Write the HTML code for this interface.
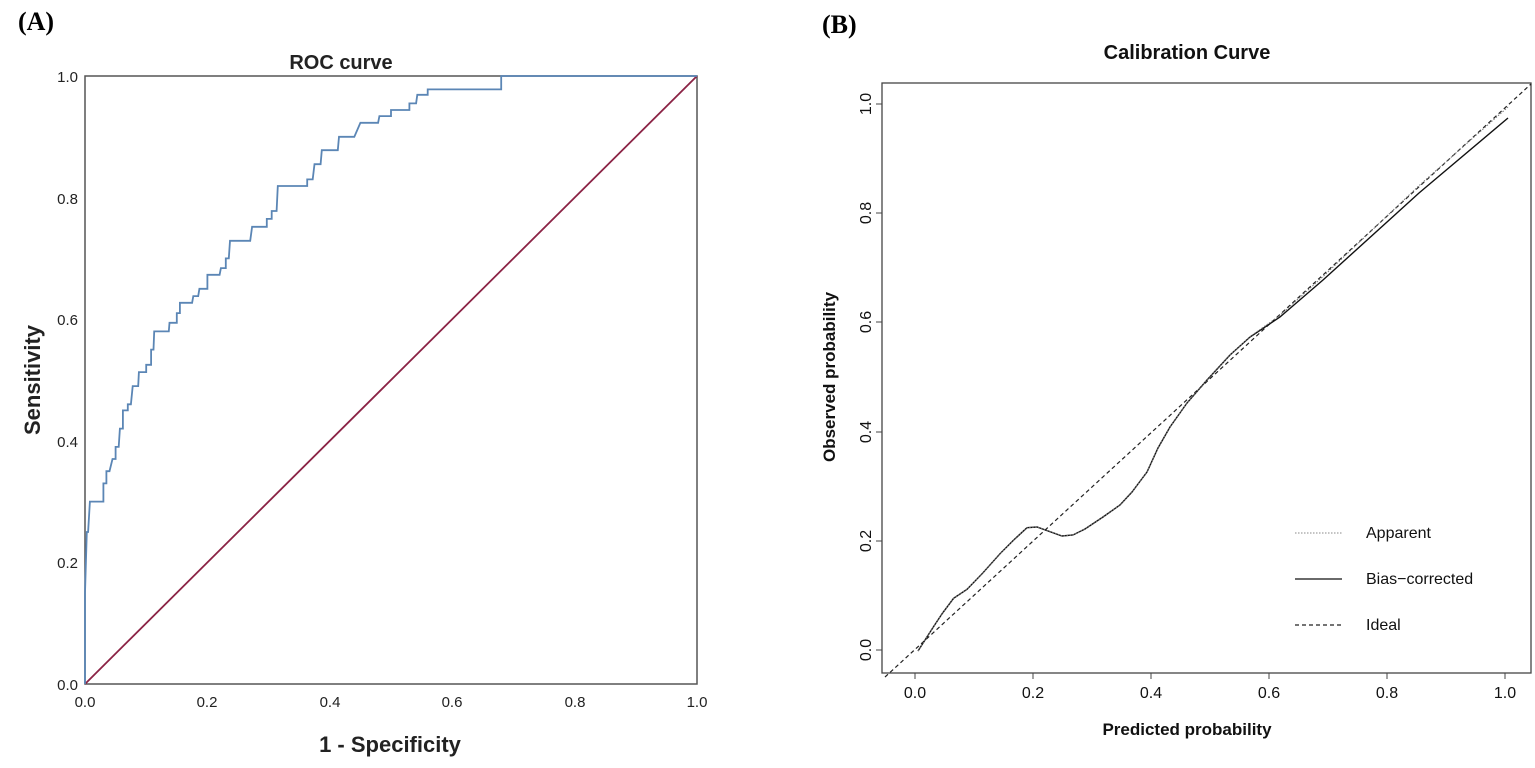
<!DOCTYPE html>
<html><head><meta charset="utf-8"><style>
html,body{margin:0;padding:0;background:#fff;width:1535px;height:768px;overflow:hidden}
svg{display:block}
</style></head><body>
<svg id="s" width="1535" height="768" xmlns="http://www.w3.org/2000/svg" font-family="Liberation Sans, sans-serif">
<text x="18" y="30" font-family="Liberation Serif, serif" font-weight="bold" font-size="26">(A)</text>
<text x="822" y="33" font-family="Liberation Serif, serif" font-weight="bold" font-size="26">(B)</text>
<!-- Panel A -->
<text x="341" y="69" text-anchor="middle" font-weight="bold" font-size="20" fill="#222">ROC curve</text>
<rect x="85" y="76" width="612" height="608" fill="none" stroke="#555" stroke-width="1.5"/>
<g font-size="15" fill="#222" text-anchor="end">
<text x="78" y="690">0.0</text><text x="78" y="568">0.2</text><text x="78" y="447">0.4</text><text x="78" y="325">0.6</text><text x="78" y="204">0.8</text><text x="78" y="82">1.0</text>
</g>
<g font-size="15" fill="#222" text-anchor="middle">
<text x="85" y="707">0.0</text><text x="207" y="707">0.2</text><text x="330" y="707">0.4</text><text x="452" y="707">0.6</text><text x="575" y="707">0.8</text><text x="697" y="707">1.0</text>
</g>
<text transform="translate(40,380) rotate(-90)" text-anchor="middle" font-weight="bold" font-size="22" fill="#222">Sensitivity</text>
<text x="390" y="752" text-anchor="middle" font-weight="bold" font-size="22" fill="#222">1 - Specificity</text>
<line x1="85" y1="684" x2="697" y2="76" stroke="#8b2345" stroke-width="1.8"/>
<path id="roc" fill="none" stroke="#5b86b5" stroke-width="1.8"/>
<!-- Panel B -->
<text x="1187" y="59" text-anchor="middle" font-weight="bold" font-size="20" fill="#111">Calibration Curve</text>
<rect x="882" y="83" width="649" height="590" fill="none" stroke="#444" stroke-width="1.3"/>
<g stroke="#444" stroke-width="1">
<line x1="915" y1="673" x2="915" y2="679"/><line x1="1033" y1="673" x2="1033" y2="679"/><line x1="1151" y1="673" x2="1151" y2="679"/><line x1="1269" y1="673" x2="1269" y2="679"/><line x1="1387" y1="673" x2="1387" y2="679"/><line x1="1505" y1="673" x2="1505" y2="679"/>
<line x1="876" y1="650" x2="882" y2="650"/><line x1="876" y1="541" x2="882" y2="541"/><line x1="876" y1="432" x2="882" y2="432"/><line x1="876" y1="322" x2="882" y2="322"/><line x1="876" y1="213" x2="882" y2="213"/><line x1="876" y1="104" x2="882" y2="104"/>
</g>
<g font-size="16" fill="#111" text-anchor="middle">
<text x="915" y="698">0.0</text><text x="1033" y="698">0.2</text><text x="1151" y="698">0.4</text><text x="1269" y="698">0.6</text><text x="1387" y="698">0.8</text><text x="1505" y="698">1.0</text>
<text transform="translate(871,650) rotate(-90)">0.0</text>
<text transform="translate(871,541) rotate(-90)">0.2</text>
<text transform="translate(871,432) rotate(-90)">0.4</text>
<text transform="translate(871,322) rotate(-90)">0.6</text>
<text transform="translate(871,213) rotate(-90)">0.8</text>
<text transform="translate(871,104) rotate(-90)">1.0</text>
</g>
<text transform="translate(835,377) rotate(-90)" text-anchor="middle" font-weight="bold" font-size="17" fill="#111">Observed probability</text>
<text x="1187" y="735" text-anchor="middle" font-weight="bold" font-size="17" fill="#111">Predicted probability</text>
<line x1="885" y1="677" x2="1531" y2="84" stroke="#222" stroke-width="1.2" stroke-dasharray="4,3"/>
<path id="bc" fill="none" stroke="#111" stroke-width="1.4"/>
<path id="ap" fill="none" stroke="#777" stroke-width="1" stroke-dasharray="1.5,1.5"/>
<g font-size="16" fill="#111">
<line x1="1295" y1="533" x2="1342" y2="533" stroke="#888" stroke-width="1" stroke-dasharray="1.5,1.5"/>
<text x="1366" y="538">Apparent</text>
<line x1="1295" y1="579" x2="1342" y2="579" stroke="#111" stroke-width="1.3"/>
<text x="1366" y="584">Bias−corrected</text>
<line x1="1295" y1="625" x2="1342" y2="625" stroke="#222" stroke-width="1.2" stroke-dasharray="4,3"/>
<text x="1366" y="630">Ideal</text>
</g>
</svg>
<script>
var pl=[[0,0,0.15],[0.003,0.005,0.25],[0.008,0.03,0.3],[0.03,0.035,0.33],[0.035,0.04,0.35],[0.045,0.05,0.37],[0.05,0.055,0.39],[0.057,0.062,0.42],[0.062,0.07,0.45],[0.07,0.075,0.46],[0.078,0.087,0.49],[0.088,0.1,0.513],[0.1,0.108,0.525],[0.108,0.112,0.55],[0.113,0.137,0.58],[0.138,0.15,0.594],[0.15,0.155,0.61],[0.155,0.175,0.627],[0.177,0.185,0.638],[0.187,0.2,0.65],[0.2,0.22,0.673],[0.222,0.23,0.684],[0.23,0.235,0.7],[0.237,0.27,0.729],[0.273,0.297,0.752],[0.297,0.305,0.765],[0.305,0.313,0.778],[0.315,0.363,0.819],[0.363,0.372,0.83],[0.375,0.385,0.855],[0.387,0.413,0.878],[0.415,0.44,0.9],[0.45,0.479,0.923],[0.481,0.5,0.934],[0.5,0.53,0.944],[0.53,0.541,0.955],[0.543,0.56,0.969],[0.56,0.68,0.978],[0.68,1,1]];
var d="M85,684",X=function(f){return (85+f*612).toFixed(1)},Y=function(t){return (684-t*608).toFixed(1)};
pl.forEach(function(p){d+=" L"+X(p[0])+","+Y(p[2])+" L"+X(p[1])+","+Y(p[2]);});
document.getElementById("roc").setAttribute("d",d);
var bc=[[918,651],[933.5,626.7],[942.4,613.3],[953.6,598.3],[967,589.3],[982.5,573.3],[1000.4,553.3],[1013.7,540],[1027,527.7],[1037,527],[1062,536],[1073,535],[1085,529],[1103,517],[1120,505],[1132,492],[1147,472],[1158,448],[1170,427],[1187,403],[1207,380],[1230,355],[1250,337],[1280,317],[1323,280],[1419,193],[1508,118]];
var s="M"+bc.map(function(p){return p.join(",")}).join(" L");
document.getElementById("bc").setAttribute("d",s);
var ap=bc.map(function(p){var k=p[0]>1240?(p[0]-1240)/268*11:0;return [p[0],p[1]-k];});
document.getElementById("ap").setAttribute("d","M"+ap.map(function(p){return p.join(",")}).join(" L"));
</script>
</body></html>
